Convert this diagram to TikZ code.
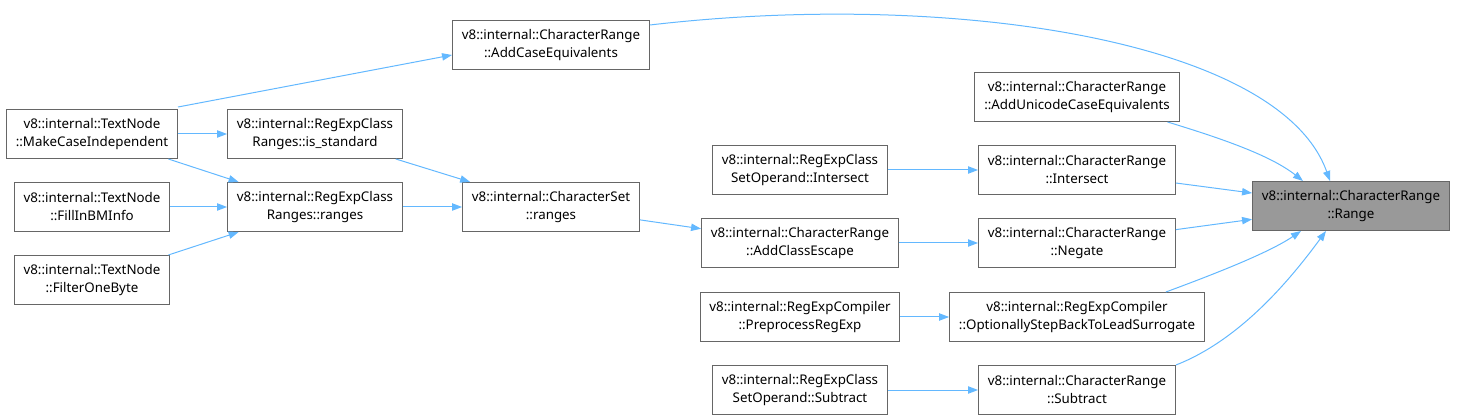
\documentclass[tikz,border=0pt]{standalone}
\usepackage{fontspec}
\setmainfont{Noto Sans}
\usetikzlibrary{arrows.meta,positioning,calc}
\definecolor{edgeblue}{HTML}{63B8FF}
\definecolor{boxline}{HTML}{666666}
\definecolor{hilite}{HTML}{999999}

\begin{document}
\begin{tikzpicture}[
    x=0.75pt, y=-0.75pt,
    fn/.style={draw=boxline, line width=0.75pt, fill=white, minimum height=36.75pt, inner xsep=7pt, align=center, font=\fontsize{10}{13.5}\selectfont},
    cur/.style={fn, fill=hilite},
    arr/.style={-{Triangle[length=7.5pt, width=5.5pt]}, draw=edgeblue, line width=0.75pt}
]
\useasboundingbox (0,0) rectangle (1457,420);

\node[cur] (range) at (1351,206) {v8::internal::CharacterRange\\::Range};

\node[fn] (ace) at (551,45) {v8::internal::CharacterRange\\::AddCaseEquivalents};
\node[fn] (auce) at (1077,97) {v8::internal::CharacterRange\\::AddUnicodeCaseEquivalents};
\node[fn] (crisect) at (1077,170) {v8::internal::CharacterRange\\::Intersect};
\node[fn] (negate) at (1077,243) {v8::internal::CharacterRange\\::Negate};
\node[fn] (osb) at (1077,317) {v8::internal::RegExpCompiler\\::OptionallyStepBackToLeadSurrogate};
\node[fn] (crsub) at (1077,390) {v8::internal::CharacterRange\\::Subtract};

\node[fn] (soisect) at (800,170) {v8::internal::RegExpClass\\SetOperand::Intersect};
\node[fn] (escape) at (800,243) {v8::internal::CharacterRange\\::AddClassEscape};
\node[fn] (prep) at (800,317) {v8::internal::RegExpCompiler\\::PreprocessRegExp};
\node[fn] (sosub) at (800,390) {v8::internal::RegExpClass\\SetOperand::Subtract};

\node[fn] (csranges) at (551,207) {v8::internal::CharacterSet\\::ranges};
\node[fn] (isstd) at (315,134) {v8::internal::RegExpClass\\Ranges::is\_standard};
\node[fn] (rcranges) at (315,207) {v8::internal::RegExpClass\\Ranges::ranges};

\node[fn] (mci) at (92,134) {v8::internal::TextNode\\::MakeCaseIndependent};
\node[fn] (bmi) at (92,207) {v8::internal::TextNode\\::FillInBMInfo};
\node[fn] (fob) at (92,280) {v8::internal::TextNode\\::FilterOneByte};

\draw[arr] ($(ace.east)+(0,-20)$) .. controls (950,-10) and (1280,40) .. ($(range.north)+(-21,0)$);
\draw[arr] ($(auce.south east)+(-12,0)$) .. controls (1220,138) and (1270,155) .. ($(range.north)+(-48,0)$);
\draw[arr] (crisect) -- (range);
\draw[arr] (negate) -- (range);
\draw[arr] ($(osb.north east)+(-39,0)$) .. controls (1220,272) and (1270,252) .. ($(range.south)+(-50,0)$);
\draw[arr] (crsub.north east) .. controls (1240,340) and (1290,280) .. ($(range.south)+(-25,0)$);

\draw[arr] (soisect) -- (crisect);
\draw[arr] (escape) -- (negate);
\draw[arr] (prep) -- (osb);
\draw[arr] (sosub) -- (crsub);

\draw[arr] (csranges) -- (escape);
\draw[arr] (isstd) -- (csranges);
\draw[arr] (rcranges) -- (csranges);

\draw[arr] ($(mci.north east)+(0,-2)$) -- ($(ace.west)+(0,10)$);
\draw[arr] (mci) -- (isstd);
\draw[arr] (mci) -- (rcranges);
\draw[arr] (bmi) -- (rcranges);
\draw[arr] (fob) -- (rcranges);
\end{tikzpicture}
\end{document}
